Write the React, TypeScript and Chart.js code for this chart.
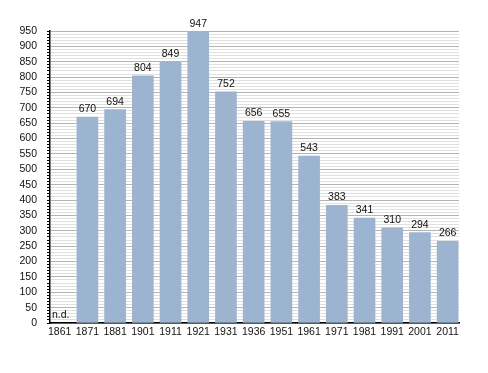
import React, { useEffect, useRef } from "react";
import { Chart, registerables } from "chart.js";

Chart.register(...registerables);

const years = ["1861", "1871", "1881", "1901", "1911", "1921", "1931", "1936", "1951", "1961", "1971", "1981", "1991", "2001", "2011"];
const population: (number | null)[] = [null, 670, 694, 804, 849, 947, 752, 656, 655, 543, 383, 341, 310, 294, 266];
const yMax = 950;

const FONT = "'Liberation Sans', Arial, sans-serif";

const labelPlugin = {
  id: "valueLabels",
  afterDatasetsDraw(chart: any) {
    const ctx = chart.ctx;
    const meta = chart.getDatasetMeta(0);
    ctx.save();
    ctx.font = `10.5px ${FONT}`;
    ctx.fillStyle = "#111";
    ctx.textBaseline = "alphabetic";
    population.forEach((v, i) => {
      if (v == null) {
        const y = chart.scales.y.getPixelForValue(0);
        ctx.textAlign = "left";
        ctx.fillText("n.d.", chart.chartArea.left + 2, y - 5);
      } else {
        const bar = meta.data[i];
        ctx.textAlign = "center";
        ctx.fillText(String(v), bar.x, bar.y - 5);
      }
    });
    ctx.restore();
  },
};

export default function App() {
  const ref = useRef<HTMLCanvasElement>(null);
  useEffect(() => {
    document.body.style.margin = "0";
    const chart = new Chart(ref.current!, {
      type: "bar",
      data: {
        datasets: [
          {
            data: population.map((v, i) => ({ x: i, y: v })) as any,
            backgroundColor: "#9cb4cf",
            borderWidth: 0,
            barThickness: 21,
          },
        ],
      },
      options: {
        animation: false,
        responsive: false,
        layout: { padding: { top: 31, right: 29, left: 0, bottom: 0 } },
        plugins: { legend: { display: false }, tooltip: { enabled: false } },
        scales: {
          x: {
            type: "linear",
            min: -0.35,
            max: 14.41,
            offset: false,
            grid: { display: false, drawTicks: false },
            border: { color: "#000", width: 1.5 },
            afterBuildTicks: (s: any) => {
              s.ticks = years.map((_, i) => ({ value: i }));
            },
            ticks: {
              color: "#111",
              font: { family: FONT, size: 10.5 },
              padding: 3,
              maxRotation: 0,
              autoSkip: false,
              callback: (v: any) => years[Math.round(Number(v))] ?? "",
            },
            afterFit: (s: any) => {
              s.height = 50;
            },
          },
          y: {
            min: 0,
            max: yMax,
            grid: {
              color: (c: any) => (c.tick && c.tick.value % 50 === 0 ? "#b4b4b4" : "#e0e0e0"),
              tickColor: "#000",
              tickLength: 3,
              lineWidth: 1,
            },
            border: { color: "#000", width: 1.5 },
            ticks: {
              stepSize: 10,
              autoSkip: false,
              color: "#111",
              font: { family: FONT, size: 10.5 },
              padding: 10,
              callback: (v: any) => (Number(v) % 50 === 0 ? String(v) : ""),
            },
            afterFit: (s: any) => {
              s.width = 50;
            },
          },
        },
      },
      plugins: [labelPlugin],
    });
    return () => chart.destroy();
  }, []);
  return (
    <div style={{ width: 488, height: 373, background: "#fff" }}>
      <canvas ref={ref} width={488} height={373} />
    </div>
  );
}
